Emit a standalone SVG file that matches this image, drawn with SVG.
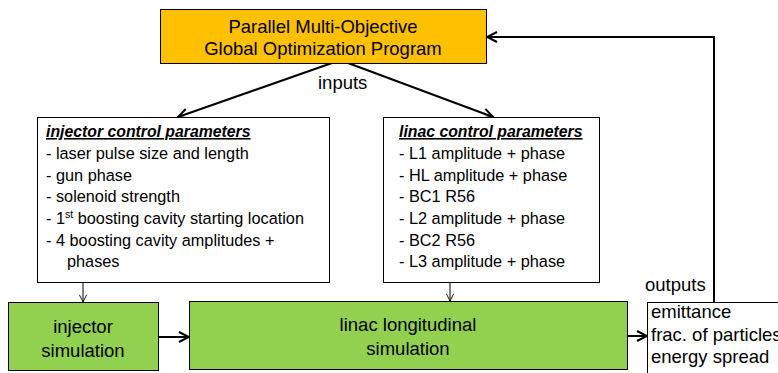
<svg xmlns="http://www.w3.org/2000/svg" width="778" height="373" viewBox="0 0 778 373">
<style>
text{font-family:"Liberation Sans",Arial,sans-serif;fill:#000}
.t{font-size:18.5px}
.b{font-size:16.3px}
.h{font-size:15.8px;font-weight:bold;font-style:italic;text-decoration:underline}
.box{stroke:#000;stroke-width:1}
.thick{stroke:#000;stroke-width:2;fill:none}
.thin{stroke:#000;stroke-width:1;fill:none}
</style>
<defs>
<marker id="ahBig" viewBox="0 0 12 12" refX="11" refY="6" markerWidth="12" markerHeight="12" markerUnits="userSpaceOnUse" orient="auto">
<path d="M1,1 L11,6 L1,11" fill="none" stroke="#000" stroke-width="2"/>
</marker>
<marker id="ahS" viewBox="0 0 10 10" refX="9" refY="5" markerWidth="9" markerHeight="9" markerUnits="userSpaceOnUse" orient="auto">
<path d="M1,1 L9,5 L1,9" fill="none" stroke="#000" stroke-width="1"/>
</marker>
</defs>
<g id="connectors">
<line class="thick" x1="332" y1="63" x2="178" y2="117" marker-end="url(#ahBig)"/>
<line class="thick" x1="348" y1="63" x2="493" y2="117" marker-end="url(#ahBig)"/>
<line class="thin" x1="83" y1="282" x2="83" y2="302" marker-end="url(#ahS)"/>
<line class="thin" x1="450" y1="282" x2="450" y2="301" marker-end="url(#ahS)"/>
<line class="thick" x1="158" y1="337" x2="189" y2="337" marker-end="url(#ahBig)"/>
<line class="thick" x1="627" y1="336" x2="647" y2="336" marker-end="url(#ahBig)"/>
<polyline class="thick" points="714,302 714,37 487,37" marker-end="url(#ahBig)"/>
<text class="t" x="318" y="89">inputs</text>
<text class="t" x="645" y="291">outputs</text>
</g>
<g id="program">
<rect class="box" x="160.5" y="9.5" width="326" height="54" fill="#FFC000"/>
<text class="t" x="323" y="33" text-anchor="middle">Parallel Multi-Objective</text>
<text class="t" x="323" y="55" text-anchor="middle">Global Optimization Program</text>
</g>
<g id="injector-params">
<rect class="box" x="37.5" y="117.5" width="292" height="165" fill="#fff"/>
<text class="h" x="46" y="137">injector control parameters</text>
<text class="b" x="46" y="159">- laser pulse size and length</text>
<text class="b" x="46" y="181">- gun phase</text>
<text class="b" x="46" y="202">- solenoid strength</text>
<text class="b" x="46" y="224">- 1<tspan font-size="10.5" dy="-6">st</tspan><tspan dy="6"> boosting cavity starting location</tspan></text>
<text class="b" x="46" y="246">- 4 boosting cavity amplitudes +</text>
<text class="b" x="67" y="267">phases</text>
</g>
<g id="linac-params">
<rect class="box" x="383.5" y="117.5" width="216" height="165" fill="#fff"/>
<text class="h" x="399" y="137">linac control parameters</text>
<text class="b" x="399" y="159">- L1 amplitude + phase</text>
<text class="b" x="399" y="181">- HL amplitude + phase</text>
<text class="b" x="399" y="202">- BC1 R56</text>
<text class="b" x="399" y="224">- L2 amplitude + phase</text>
<text class="b" x="399" y="246">- BC2 R56</text>
<text class="b" x="399" y="267">- L3 amplitude + phase</text>
</g>
<g id="injector-sim">
<rect class="box" x="8.5" y="302.5" width="150" height="68" fill="#92D050"/>
<text class="t" x="83" y="333" text-anchor="middle">injector</text>
<text class="t" x="83" y="357" text-anchor="middle">simulation</text>
</g>
<g id="linac-sim">
<rect class="box" x="189.5" y="301.5" width="438" height="68" fill="#92D050"/>
<text class="t" x="408" y="331" text-anchor="middle">linac longitudinal</text>
<text class="t" x="408" y="355" text-anchor="middle">simulation</text>
</g>
<g id="outputs">
<rect class="box" x="647.5" y="302.5" width="140" height="80" fill="#fff"/>
<text class="t" x="651" y="318">emittance</text>
<text class="t" x="651" y="341">frac. of particles</text>
<text class="t" x="651" y="363">energy spread</text>
</g>
</svg>
